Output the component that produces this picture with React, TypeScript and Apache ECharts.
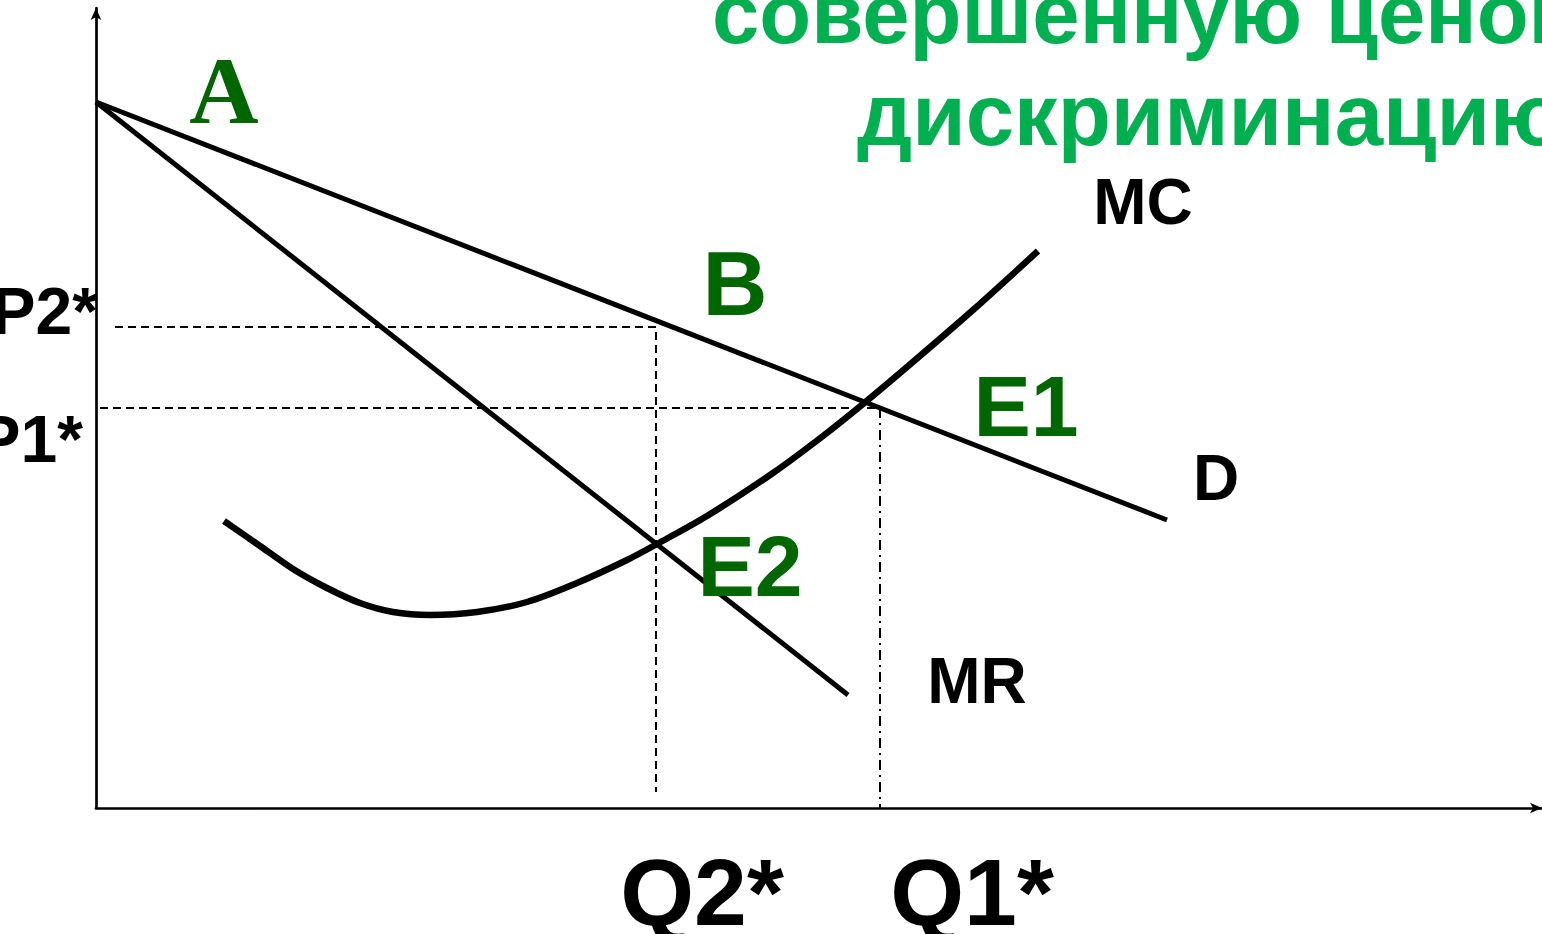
import React, { useEffect, useRef } from "react";
import * as echarts from "echarts";

// Curves (x = quantity units, y = price units)
const demandQ = [0, 107.1];
const demandP = [70.6, 28.8];
const mrQ = [0, 75.2];
const mrP = [70.6, 11.3];
const mcQ = [12.8, 16.4, 19.7, 23.1, 26.4, 29.7, 33.4, 38.1, 43.1, 48.1, 53.1, 56.1, 61.1, 67.7, 72.7, 76.7, 81.1, 87.7, 94.2];
const mcP = [28.7, 26.2, 23.9, 22.0, 20.5, 19.6, 19.3, 19.6, 20.6, 22.5, 24.8, 26.4, 29.2, 33.5, 37.2, 40.4, 44.1, 49.8, 55.7];

// Equilibrium guides
const p2Value = 48.1;
const q2Value = 56.0;
const p1Value = 40.0;
const q1Value = 78.4;
const guideStartP2 = 1.9;
const guideStartP1 = 0.4;
const guideEndQ2 = 1.6;

// Curve / point labels
const pointLabels = ["B", "E1", "E2"];
const pointLabelQ = [63.9, 93.0, 65.4];
const pointLabelP = [52.4, 40.2, 24.2];
const pointLabelSize = [90, 86, 86];
const curveLabels = ["MC", "D", "MR"];
const curveLabelQ = [104.7, 112.0, 88.1];
const curveLabelP = [60.6, 33.0, 12.7];
const areaLabel = "A";
const areaLabelQ = 12.8;
const areaLabelP = 71.8;
const priceLabels = ["P2*", "P1*"];
const priceLabelP = [49.7, 36.9];
const qtyLabels = ["Q2*", "Q1*"];
const qtyLabelQ = [60.6, 87.6];
const qtyLabelP = -8.4;

const titleLines = ["совершенную ценовую", "дискриминацию"];

const zip = (a: number[], b: number[]) => a.map((v, i) => [v, b[i]]);

export default function App() {
  const ref = useRef<HTMLDivElement>(null);
  useEffect(() => {
    if (!ref.current) return;
    const chart = echarts.init(ref.current, null, { renderer: "svg" });
    const sans = "'Liberation Sans', Arial, sans-serif";
    const green = "#006600";
    const lineBase = { type: "line", symbol: "none", silent: true, z: 3 };
    const textSeries = (data: any[], label: any) => ({
      type: "scatter",
      symbolSize: 0,
      clip: false,
      silent: true,
      z: 5,
      itemStyle: { opacity: 1 },
      data,
      label: { show: true, opacity: 1, position: "inside", formatter: (p: any) => p.data.name, ...label },
    });
    const axisCommon = {
      type: "value",
      axisLine: {
        show: true,
        symbol: ["none", "arrow"],
        symbolSize: [8, 12],
        lineStyle: { color: "#000", width: 2.7 },
      },
      axisTick: { show: false },
      axisLabel: { show: false },
      splitLine: { show: false },
    };
    chart.setOption({
      animation: false,
      backgroundColor: "#ffffff",
      grid: { left: 96, right: 0, top: 8, bottom: 126 },
      xAxis: { ...axisCommon, min: 0, max: 144.6 },
      yAxis: { ...axisCommon, min: 0, max: 80 },
      graphic: [
        {
          type: "text",
          z: 10,
          x: 712,
          y: 13,
          style: {
            text: titleLines[0],
            font: `bold 85px ${sans}`,
            fill: "#00B050",
            verticalAlign: "middle",
          },
        },
        {
          type: "text",
          z: 10,
          x: 857,
          y: 114,
          style: {
            text: titleLines[1],
            font: `bold 87px ${sans}`,
            fill: "#00B050",
            verticalAlign: "middle",
          },
        },
      ],
      series: [
        { ...lineBase, name: "D", data: zip(demandQ, demandP), lineStyle: { color: "#000", width: 5 } },
        { ...lineBase, name: "MR", data: zip(mrQ, mrP), lineStyle: { color: "#000", width: 5 } },
        {
          ...lineBase,
          name: "MC",
          smooth: 0.3,
          data: zip(mcQ, mcP),
          lineStyle: { color: "#000", width: 6.5, cap: "butt", join: "round" },
        },
        {
          ...lineBase,
          z: 2,
          data: [
            [guideStartP2, p2Value],
            [q2Value, p2Value],
            [q2Value, guideEndQ2],
          ],
          lineStyle: { color: "#000", width: 2, type: [8, 5] },
        },
        {
          ...lineBase,
          z: 2,
          data: [
            [guideStartP1, p1Value],
            [q1Value, p1Value],
          ],
          lineStyle: { color: "#000", width: 2, type: [8, 5] },
        },
        {
          ...lineBase,
          z: 2,
          data: [
            [q1Value, p1Value],
            [q1Value, 0],
          ],
          lineStyle: { color: "#000", width: 2, type: [10, 5, 2, 5] },
        },
        textSeries(
          pointLabels.map((t, i) => ({
            name: t,
            value: [pointLabelQ[i], pointLabelP[i]],
            label: { fontSize: pointLabelSize[i] },
          })),
          { color: green, fontFamily: sans, fontWeight: "bold", fontSize: 88 }
        ),
        textSeries(
          curveLabels.map((t, i) => ({ name: t, value: [curveLabelQ[i], curveLabelP[i]] })),
          { color: "#000", fontFamily: sans, fontWeight: "bold", fontSize: 64 }
        ),
        textSeries([{ name: areaLabel, value: [areaLabelQ, areaLabelP] }], {
          color: green,
          fontFamily: "'Liberation Serif', 'Times New Roman', serif",
          fontWeight: "bold",
          fontSize: 96,
        }),
        textSeries(
          priceLabels.map((t, i) => ({
            name: t,
            value: [0, priceLabelP[i]],
            label: { offset: i === 0 ? [2, 0] : [-13, 0] },
          })),
          { color: "#000", fontFamily: sans, fontWeight: "bold", fontSize: 66, align: "right" }
        ),
        textSeries(
          qtyLabels.map((t, i) => ({ name: t, value: [qtyLabelQ[i], qtyLabelP] })),
          { color: "#000", fontFamily: sans, fontWeight: "bold", fontSize: 95 }
        ),
      ],
    });
    return () => chart.dispose();
  }, []);
  return (
    <div
      ref={ref}
      style={{ position: "fixed", left: 0, top: 0, width: 1542, height: 934, background: "#fff" }}
    />
  );
}
